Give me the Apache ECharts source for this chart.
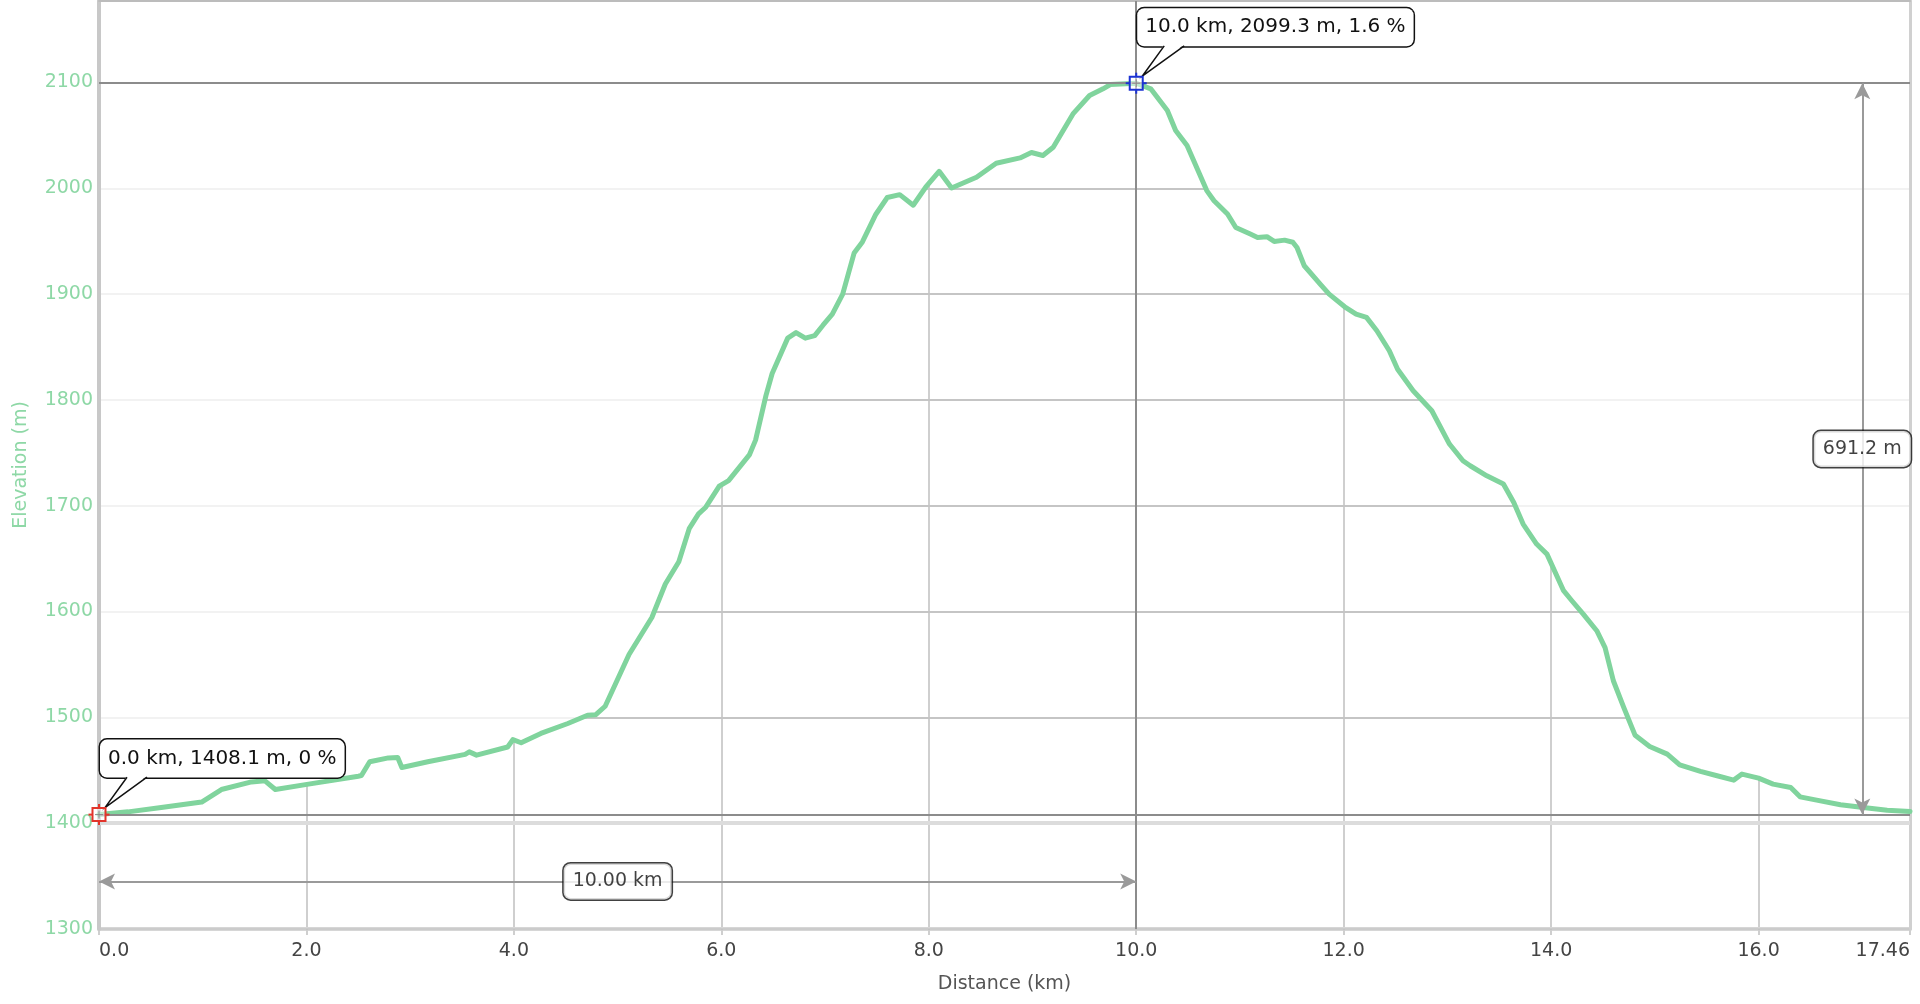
<!DOCTYPE html>
<html>
<head>
<meta charset="utf-8">
<script src="https://cdn.jsdelivr.net/npm/echarts@6/dist/echarts.min.js"></script>
<style>
html,body{margin:0;padding:0;background:#fff;}
#chart{width:1920px;height:1004px;}
</style>
</head>
<body>
<div id="chart"></div>
<script>
// ---- data ----
const distanceKm = [
  0.00, 0.28, 0.60, 0.99, 1.18, 1.47, 1.60, 1.70, 2.02, 2.50, 2.53, 2.61, 2.79, 2.88, 2.92, 3.17,
  3.53, 3.57, 3.64, 3.94, 3.99, 4.07, 4.26, 4.52, 4.71, 4.79, 4.88, 5.11, 5.33, 5.46, 5.59, 5.69,
  5.78, 5.85, 5.98, 6.07, 6.27, 6.33, 6.43, 6.49, 6.64, 6.72, 6.81, 6.90, 6.98, 7.07, 7.17, 7.28,
  7.36, 7.49, 7.60, 7.72, 7.85, 7.97, 8.10, 8.22, 8.46, 8.65, 8.88, 8.99, 9.10, 9.20, 9.39, 9.55,
  9.68, 9.75, 10.00, 10.14, 10.30, 10.38, 10.49, 10.68, 10.75, 10.88, 10.96, 11.10, 11.17, 11.26,
  11.33, 11.43, 11.51, 11.55, 11.62, 11.78, 11.86, 12.01, 12.12, 12.22, 12.32, 12.44, 12.52, 12.67,
  12.85, 13.02, 13.15, 13.22, 13.38, 13.54, 13.64, 13.73, 13.86, 13.96, 14.12, 14.20, 14.31, 14.44,
  14.52, 14.60, 14.70, 14.81, 14.95, 15.12, 15.24, 15.44, 15.60, 15.76, 15.84, 16.00, 16.14, 16.31,
  16.40, 16.56, 16.79, 17.01, 17.24, 17.46
];
const elevationM = [
  1408.1, 1410.7, 1414.8, 1420.0, 1431.8, 1439.0, 1440.0, 1431.8, 1436.9, 1444.4, 1445.0, 1458.0, 1461.7, 1462.0, 1452.6, 1458.0,
  1465.0, 1467.4, 1464.3, 1472.0, 1479.0, 1476.0, 1484.8, 1494.2, 1502.0, 1502.5, 1510.5, 1559.4, 1594.4, 1626.0, 1647.0, 1678.3,
  1692.3, 1698.6, 1718.5, 1723.8, 1748.0, 1762.0, 1804.0, 1825.0, 1858.4, 1863.6, 1858.4, 1860.8, 1870.6, 1881.0, 1900.0, 1938.8,
  1949.3, 1975.5, 1991.3, 1994.0, 1984.0, 2001.0, 2016.0, 2000.3, 2010.4, 2023.7, 2028.7, 2033.8, 2031.0, 2038.8, 2070.3, 2087.7,
  2094.0, 2098.0, 2099.3, 2094.0, 2073.5, 2054.6, 2040.4, 1997.8, 1988.3, 1975.7, 1963.0, 1956.8, 1953.6, 1954.3,
  1949.8, 1951.0, 1949.0, 1944.0, 1926.8, 1908.8, 1900.0, 1888.0, 1881.0, 1878.0, 1865.4, 1846.5, 1829.0, 1808.7,
  1789.8, 1758.3, 1742.5, 1737.8, 1728.3, 1720.5, 1703.0, 1682.7, 1663.8, 1654.3, 1619.7, 1610.2, 1597.6, 1581.9,
  1566.0, 1534.6, 1509.4, 1483.0, 1472.5, 1465.3, 1455.2, 1448.9, 1444.8, 1440.7, 1446.4, 1442.6, 1436.9, 1433.8,
  1424.9, 1421.8, 1417.4, 1414.8, 1412.3, 1411.0
];

// axes
const xRange = [0, 17.46];
const xTickStep = 2;
const yRange = [1300, 2177];
const yTickStep = 100;

// highlighted points (callouts)
const calloutKm = [0.0, 10.0];
const calloutElev = [1408.1, 2099.3];
const calloutText = ['0.0 km, 1408.1 m, 0 %', '10.0 km, 2099.3 m, 1.6 %'];
const calloutColor = ['#e2352b', '#1c33d4'];

// measurement arrows
const spanKm = [0, 10];
const spanElev = 1345;
const spanLabel = '10.00 km';
const riseKm = 17.0;
const riseElev = [2099.3, 1408.1];
const riseLabel = '691.2 m';

// ---- chart ----
const FONT = '"DejaVu Sans", Verdana, sans-serif';
const GREEN = '#80d49d';
const GREEN_TEXT = '#8ed8a6';
const profile = distanceKm.map((d, i) => [d, elevationM[i]]);
const measurePoints = [
  {value: [(spanKm[0] + spanKm[1]) / 2, spanElev], name: spanLabel},
  {value: [riseKm, (riseElev[0] + riseElev[1]) / 2], name: riseLabel}
];

const chart = echarts.init(document.getElementById('chart'), null, {renderer: 'canvas'});

const baseX = {type: 'value', min: xRange[0], max: xRange[1], interval: xTickStep};
const baseY = {type: 'value', min: yRange[0], max: yRange[1], interval: yTickStep};

const option = {
  animation: false,
  backgroundColor: '#ffffff',
  grid: {left: 99, right: 10, top: 1, bottom: 75, containLabel: false},
  xAxis: [
    Object.assign({}, baseX, {
      position: 'bottom',
      z: 0,
      name: 'Distance (km)',
      nameLocation: 'middle',
      nameGap: 46,
      nameTextStyle: {color: '#555', fontSize: 19, fontFamily: FONT},
      axisLine: {show: true, lineStyle: {color: '#d6d6d6', width: 4}},
      axisTick: {show: true, length: 6, lineStyle: {color: '#cfcfcf', width: 2}},
      axisLabel: {
        show: true, color: '#444', fontSize: 19, fontFamily: FONT, margin: 13,
        alignMinLabel: 'left', alignMaxLabel: 'right',
        formatter: v => (Math.abs(v - xRange[1]) < 1e-9 ? xRange[1].toFixed(2) : v.toFixed(1))
      },
      splitLine: {show: true, lineStyle: {color: '#cfcfcf', width: 2}}
    }),
    Object.assign({}, baseX, {
      position: 'top',
      z: 2,
      axisLine: {show: true, lineStyle: {color: '#bcbcbc', width: 2}},
      axisTick: {show: false},
      axisLabel: {show: false},
      splitLine: {show: false}
    })
  ],
  yAxis: [
    Object.assign({}, baseY, {
      position: 'left',
      z: 0,
      name: 'Elevation (m)',
      nameLocation: 'middle',
      nameGap: 68,
      nameTextStyle: {color: GREEN_TEXT, fontSize: 19, fontFamily: FONT},
      axisLine: {show: false},
      axisTick: {show: false},
      axisLabel: {
        show: true, color: GREEN_TEXT, fontSize: 19, fontFamily: FONT, margin: 6,
        showMaxLabel: false,
        formatter: v => String(Math.round(v))
      },
      splitLine: {show: true, lineStyle: {color: '#d0d0d0', width: 2}}
    }),
    Object.assign({}, baseY, {
      position: 'left',
      z: 2,
      axisLine: {show: true, onZero: false, lineStyle: {color: '#c8c8c8', width: 4}},
      axisTick: {show: false},
      axisLabel: {show: false},
      splitLine: {show: true, lineStyle: {color: 'rgba(0,0,0,0.05)', width: 2}}
    }),
    Object.assign({}, baseY, {
      position: 'right',
      z: 2,
      axisLine: {show: true, onZero: false, lineStyle: {color: '#d0d0d0', width: 3}},
      axisTick: {show: false},
      axisLabel: {show: false},
      splitLine: {show: false}
    })
  ],
  series: [
    // white cover above the profile: hides the under-curve grid above it
    {
      type: 'line',
      name: 'cover',
      data: profile,
      xAxisIndex: 0, yAxisIndex: 0,
      z: 1,
      silent: true,
      showSymbol: false,
      symbol: 'none',
      lineStyle: {width: 0, opacity: 0},
      areaStyle: {color: '#ffffff', opacity: 1, origin: 'end'},
      markLine: {
        silent: true,
        symbol: 'none',
        label: {show: false},
        data: [
          {yAxis: yRange[0] + yTickStep, lineStyle: {color: '#dcdcdc', width: 4, type: 'solid'}},
          {yAxis: calloutElev[1], lineStyle: {color: '#8c8c8c', width: 2, type: 'solid'}},
          {yAxis: calloutElev[0], lineStyle: {color: '#8c8c8c', width: 2, type: 'solid'}},
          {xAxis: calloutKm[1], lineStyle: {color: '#8c8c8c', width: 2, type: 'solid'}}
        ]
      }
    },
    // elevation profile
    {
      type: 'line',
      name: 'Elevation',
      data: profile,
      xAxisIndex: 0, yAxisIndex: 0,
      z: 3,
      showSymbol: false,
      symbol: 'none',
      lineStyle: {color: GREEN, width: 5, cap: 'round', join: 'round'}
    },
    // measurement arrows
    {
      type: 'scatter',
      name: 'arrows',
      xAxisIndex: 0, yAxisIndex: 0,
      z: 4,
      silent: true,
      symbolSize: 0,
      itemStyle: {color: 'rgba(0,0,0,0)'},
      label: {show: false},
      data: measurePoints,
      markLine: {
        silent: true,
        symbol: ['arrow', 'arrow'],
        symbolSize: [12, 16],
        label: {show: false},
        lineStyle: {color: '#9a9a9a', width: 2, type: 'solid'},
        itemStyle: {color: '#9a9a9a'},
        data: [
          [{coord: [spanKm[0], spanElev]}, {coord: [spanKm[1], spanElev]}],
          [{coord: [riseKm, riseElev[0]]}, {coord: [riseKm, riseElev[1]]}]
        ]
      }
    },
    // measurement labels
    {
      type: 'scatter',
      name: 'measureLabels',
      xAxisIndex: 0, yAxisIndex: 0,
      z: 5,
      silent: true,
      symbolSize: 1,
      itemStyle: {color: 'rgba(0,0,0,0)'},
      data: measurePoints,
      label: {
        show: true,
        position: 'inside',
        formatter: p => p.name,
        color: '#111',
        fontSize: 19,
        fontFamily: FONT,
        lineHeight: 22,
        backgroundColor: '#ffffff',
        borderColor: '#111',
        borderWidth: 1.5,
        borderRadius: 7,
        padding: [7, 9, 7, 9]
      }
    },
    // callouts with point markers
    {
      type: 'custom',
      name: 'callouts',
      xAxisIndex: 0, yAxisIndex: 0,
      z: 6,
      clip: false,
      silent: true,
      data: calloutKm.map((k, i) => [k, calloutElev[i]]),
      encode: {x: 0, y: 1},
      renderItem: function (params, api) {
        const i = params.dataIndex;
        const p = api.coord([api.value(0), api.value(1)]);
        const x = p[0], y = p[1];
        const c = calloutColor[i];
        const boxLeft = x + 1, boxTop = y - 75, boxH = 38;
        const s = 6.5, t = 10.5;
        return {
          type: 'group',
          children: [
            {
              type: 'text', x: boxLeft, y: boxTop, z2: 1,
              style: {
                text: calloutText[i], fill: '#111',
                fontSize: 20, fontFamily: FONT, lineHeight: 24,
                align: 'left', verticalAlign: 'top',
                backgroundColor: '#ffffff', borderColor: '#111', borderWidth: 1.5,
                borderRadius: 7, padding: [7, 8, 7, 8]
              }
            },
            {
              type: 'polygon', z2: 2,
              shape: {points: [[x + 28, boxTop + boxH - 1.6], [x + 48, boxTop + boxH - 1.6], [x + 6, y - 7]]},
              style: {fill: '#ffffff'}
            },
            {
              type: 'polyline', z2: 3,
              shape: {points: [[x + 28, boxTop + boxH - 0.4], [x + 6, y - 7], [x + 48, boxTop + boxH - 0.4]]},
              style: {stroke: '#111', lineWidth: 1.5, fill: null}
            },
            {
              type: 'rect', z2: 4,
              shape: {x: x - s, y: y - s, width: 2 * s, height: 2 * s},
              style: {fill: 'rgba(255,255,255,0.5)', stroke: c, lineWidth: 2}
            },
            {type: 'line', z2: 4, shape: {x1: x - t, y1: y, x2: x - s, y2: y}, style: {stroke: c, lineWidth: 2}},
            {type: 'line', z2: 4, shape: {x1: x + s, y1: y, x2: x + t, y2: y}, style: {stroke: c, lineWidth: 2}},
            {type: 'line', z2: 4, shape: {x1: x, y1: y - t, x2: x, y2: y - s}, style: {stroke: c, lineWidth: 2}},
            {type: 'line', z2: 4, shape: {x1: x, y1: y + s, x2: x, y2: y + t}, style: {stroke: c, lineWidth: 2}},
            {type: 'line', z2: 5, shape: {x1: x - 4, y1: y, x2: x + 4, y2: y}, style: {stroke: '#888', lineWidth: 1}},
            {type: 'line', z2: 5, shape: {x1: x, y1: y - 4, x2: x, y2: y + 4}, style: {stroke: '#888', lineWidth: 1}}
          ]
        };
      }
    }
  ]
};

chart.setOption(option);
</script>
</body>
</html>
